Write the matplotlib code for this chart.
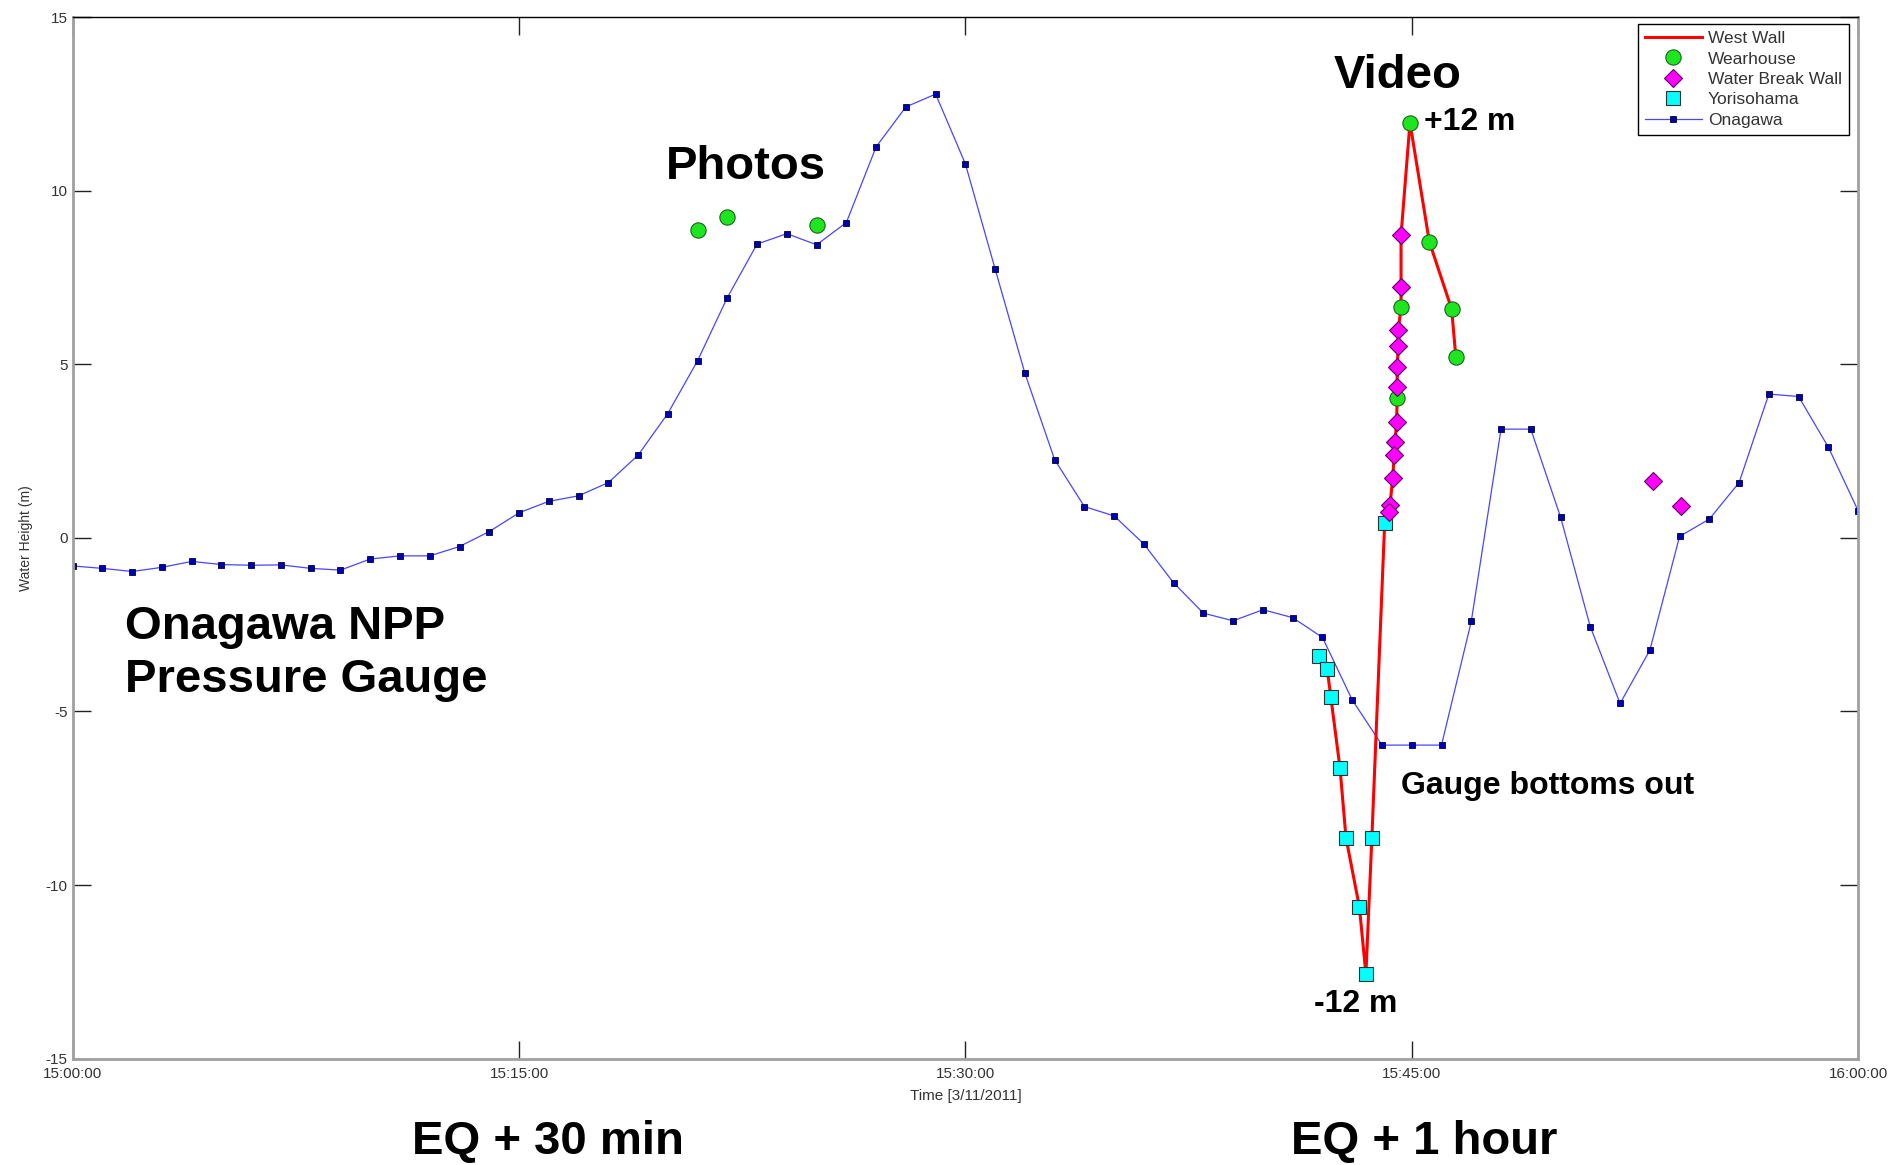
import numpy as np
import matplotlib
matplotlib.use('Agg')
import matplotlib.pyplot as plt
import matplotlib.dates as mdates

plt.rcParams['font.family'] = ['Liberation Sans', 'DejaVu Sans']
plt.rcParams['axes.unicode_minus'] = False

# Onagawa NPP pressure gauge, one reading per minute from 15:00 (m)
onagawa_min = np.arange(0, 61)
onagawa_h = [-0.81, -0.88, -0.97, -0.85, -0.68, -0.77, -0.79, -0.78, -0.88, -0.93,
             -0.61, -0.52, -0.52, -0.25, 0.18, 0.72, 1.05, 1.21, 1.59, 2.38,
             3.58, 5.10, 6.92, 8.46, 8.76, 8.44, 9.08, 11.26, 12.41, 12.78,
             10.77, 7.74, 4.74, 2.25, 0.90, 0.63, -0.18, -1.30, -2.17, -2.39,
             -2.07, -2.30, -2.87, -4.67, -5.97, -5.97, -5.97, -2.41, 3.13, 3.13,
             0.60, -2.56, -4.77, -3.24, 0.04, 0.54, 1.59, 4.14, 4.07, 2.61, 0.78]

# Wearhouse (photos + video), minutes after 15:00
wear_min = [21.03, 22.0, 25.0, 44.94, 45.59, 44.64, 46.34, 44.51, 46.48]
wear_h = [8.86, 9.25, 9.01, 11.96, 8.53, 6.66, 6.59, 4.02, 5.22]

# Water break wall
wbw_min = [44.64, 44.64, 44.55, 44.55, 44.51, 44.51, 44.49, 44.44, 44.41, 44.36,
           44.27, 44.24, 53.11, 54.04]
wbw_h = [8.71, 7.23, 5.99, 5.52, 4.93, 4.33, 3.34, 2.77, 2.38, 1.73,
         0.94, 0.75, 1.64, 0.92]

# Yorisohama
yori_min = [41.88, 42.16, 42.28, 42.59, 42.79, 43.24, 43.46, 43.66, 44.09]
yori_h = [-3.40, -3.79, -4.58, -6.64, -8.64, -10.63, -12.57, -8.64, 0.43]

# West wall (video trace)
ww_min = [42.16, 42.28, 42.59, 42.79, 43.24, 43.46, 43.66, 44.09, 44.24, 44.27,
          44.36, 44.41, 44.44, 44.49, 44.51, 44.51, 44.51, 44.55, 44.55, 44.64,
          44.64, 44.64, 44.94, 45.59, 46.34, 46.48]
ww_h = [-3.79, -4.58, -6.64, -8.64, -10.63, -12.57, -8.64, 0.43, 0.75, 0.94,
        1.73, 2.38, 2.77, 3.34, 4.02, 4.33, 4.93, 5.52, 5.99, 6.66,
        7.23, 8.71, 11.96, 8.53, 6.59, 5.22]

base = np.datetime64('2011-03-11T15:00:00')


def to_time(minutes):
    # minutes after 15:00 -> datetime64
    return base + (np.asarray(minutes, dtype=float) * 60000).astype('timedelta64[ms]')


fig = plt.figure(figsize=(18.97, 11.65), dpi=100)
ax = fig.add_axes([0.0383, 0.0913, 0.9412, 0.8941])

ax.plot(to_time(onagawa_min), onagawa_h, color='#4646ff', lw=0.9, marker='s',
        markersize=5, markerfacecolor='#0000b0', markeredgecolor='#000040',
        markeredgewidth=0.6, zorder=2, label='Onagawa')
ax.plot(to_time(ww_min), ww_h, color='#ff0000', lw=2.2, zorder=3, label='West Wall')
ax.plot(to_time(wear_min), wear_h, ls='none', marker='o', markersize=11,
        markerfacecolor='#1ee61e', markeredgecolor='#206020', markeredgewidth=0.8,
        zorder=4, label='Wearhouse')
ax.plot(to_time(wbw_min), wbw_h, ls='none', marker='D', markersize=9,
        markerfacecolor='#ff00ff', markeredgecolor='#600060', markeredgewidth=0.8,
        zorder=5, label='Water Break Wall')
ax.plot(to_time(yori_min), yori_h, ls='none', marker='s', markersize=10,
        markerfacecolor='#00ffff', markeredgecolor='#303030', markeredgewidth=0.8,
        zorder=4, label='Yorisohama')

ax.set_xlim(to_time(0), to_time(60))
ax.set_ylim(-15, 15)
ax.set_yticks([-15, -10, -5, 0, 5, 10, 15])
ax.xaxis.set_major_locator(mdates.MinuteLocator(byminute=[0, 15, 30, 45]))
ax.xaxis.set_major_formatter(mdates.DateFormatter('%H:%M:%S'))
ax.tick_params(direction='in', length=13, width=1, colors='#222222',
               labelsize=11, labelcolor='#333333', top=True, right=True)
ax.tick_params(axis='x', pad=6)

for side in ['left', 'bottom', 'right']:
    ax.spines[side].set_color('#a0a0a0')
    ax.spines[side].set_linewidth(2)
ax.spines['top'].set_color('black')
ax.spines['top'].set_linewidth(1)

ax.set_xlabel('Time [3/11/2011]', fontsize=11, color='#333333', labelpad=6)
ax.set_ylabel('Water Height (m)', fontsize=10, color='#333333', labelpad=9)

# legend in the order of the original
h, l = ax.get_legend_handles_labels()
order = ['West Wall', 'Wearhouse', 'Water Break Wall', 'Yorisohama', 'Onagawa']
hh = [h[l.index(o)] for o in order]
leg = ax.legend(hh, order, loc='upper right', bbox_to_anchor=(0.9948, 0.9932),
                fontsize=12.5, frameon=True, fancybox=False, edgecolor='black',
                framealpha=1, handlelength=3.3, labelspacing=0.3,
                borderpad=0.4, handletextpad=0.35, borderaxespad=0)
leg.get_frame().set_linewidth(1)
for t in leg.get_texts():
    t.set_color('#333333')

big = dict(fontsize=34, fontweight='bold', color='black')
mid = dict(fontsize=23, fontweight='bold', color='black')
ax.text(0.332, 0.8444, 'Photos', transform=ax.transAxes, va='baseline', **big)
ax.text(0.706, 0.9315, 'Video', transform=ax.transAxes, va='baseline', **big)
ax.text(0.757, 0.892, '+12 m', transform=ax.transAxes, va='baseline', **mid)
ax.text(0.695, 0.0451, '-12 m', transform=ax.transAxes, va='baseline', **mid)
ax.text(0.744, 0.254, 'Gauge bottoms out', transform=ax.transAxes, va='baseline', **mid)
ax.text(0.0294, 0.403, 'Onagawa NPP', transform=ax.transAxes, va='baseline', **big)
ax.text(0.0294, 0.352, 'Pressure Gauge', transform=ax.transAxes, va='baseline', **big)

fig.text(0.289, 0.001, 'EQ + 30 min', ha='center', va='bottom', **big)
fig.text(0.7507, 0.001, 'EQ + 1 hour', ha='center', va='bottom', **big)

fig.savefig('out.png', dpi=100, facecolor='white')
